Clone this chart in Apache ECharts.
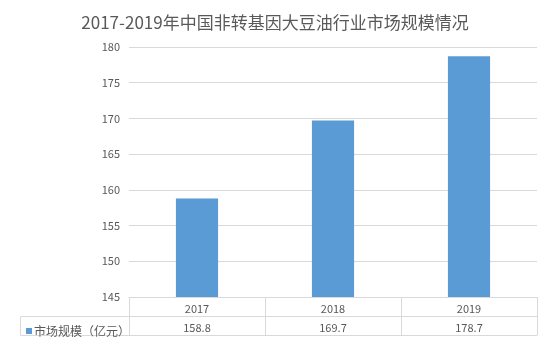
<!DOCTYPE html>
<html><head><meta charset="utf-8">
<script src="https://cdn.jsdelivr.net/npm/echarts@6/dist/echarts.min.js"></script>
<style>html,body{margin:0;padding:0;background:#fff}#c{width:550px;height:347px}</style>
</head><body><div id="c"></div>
<script>
const titleText = '2017-2019年中国非转基因大豆油行业市场规模情况';
const categories = ['2017', '2018', '2019'];
const seriesName = '市场规模（亿元）';
const values = [158.8, 169.7, 178.7];
const yTicks = [145, 150, 155, 160, 165, 170, 175, 180];

const FONT = '"Noto Sans CJK SC", "Noto Sans", sans-serif';
const TXT = '#595959';
const LINE = '#d9d9d9';
const chart = echarts.init(document.getElementById('c'));
chart.setOption({
  animation: false,
  textStyle: { fontFamily: FONT },
  title: { text: titleText, left: 'center', top: 9,
    textStyle: { fontSize: 17, fontWeight: 'normal', color: TXT, fontFamily: FONT } },
  legend: { left: 21, top: 320, icon: 'rect', itemWidth: 6, itemHeight: 6, itemGap: 2,
    textStyle: { fontSize: 12, color: TXT, fontFamily: FONT, padding: [0,0,0,-3] }, data: [seriesName] },
  grid: { left: 129, right: 13, top: 47, bottom: 50 },
  xAxis: [
    { type: 'category', data: categories, position: 'bottom',
      axisLine: { show: true, lineStyle: { color: LINE } },
      axisTick: { show: true, length: 38, lineStyle: { color: LINE } },
      axisLabel: { color: TXT, fontSize: 11, margin: 6, fontFamily: FONT } },
    { type: 'category', data: categories, position: 'bottom', offset: 19,
      axisLine: { show: true, lineStyle: { color: LINE } },
      axisTick: { show: false },
      axisLabel: { color: TXT, fontSize: 11, margin: 6, fontFamily: FONT,
        formatter: (v, i) => values[i].toFixed(1) } },
    { type: 'category', data: categories, position: 'bottom', offset: 38,
      axisLine: { show: true, lineStyle: { color: LINE } },
      axisTick: { show: false }, axisLabel: { show: false } }
  ],
  yAxis: { type: 'value', min: yTicks[0], max: yTicks[yTicks.length-1], interval: 5,
    axisLine: { show: false }, axisTick: { show: false },
    axisLabel: { color: TXT, fontSize: 11, margin: 9, fontFamily: FONT },
    splitLine: { lineStyle: { color: LINE } } },
  graphic: [
    { type: 'polyline', shape: { points: [[129,316.5],[20.5,316.5],[20.5,335.5],[129,335.5]] },
      style: { stroke: LINE, fill: null, lineWidth: 1 } }
  ],
  series: [{ name: seriesName, type: 'bar', data: values, barWidth: '31%',
    itemStyle: { color: '#5b9bd5' }, xAxisIndex: 0 }]
});
</script></body></html>
